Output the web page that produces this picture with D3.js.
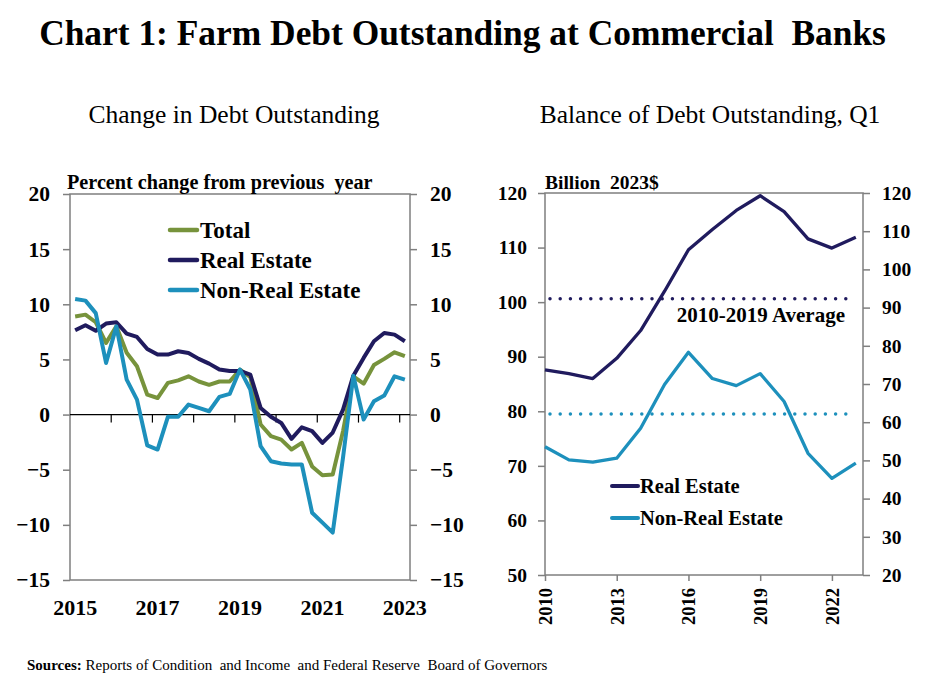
<!DOCTYPE html>
<html><head><meta charset="utf-8">
<script src="https://cdn.jsdelivr.net/npm/d3@7"></script>
<style>body{margin:0;background:#fff}svg{display:block}text{font-family:"Liberation Serif","Times New Roman",serif}</style>
</head><body>
<svg id="c" width="925" height="693"></svg>
<script>
// ---------- data ----------
const quarters = ["2015Q1","2015Q2","2015Q3","2015Q4","2016Q1","2016Q2","2016Q3","2016Q4","2017Q1","2017Q2","2017Q3","2017Q4","2018Q1","2018Q2","2018Q3","2018Q4","2019Q1","2019Q2","2019Q3","2019Q4","2020Q1","2020Q2","2020Q3","2020Q4","2021Q1","2021Q2","2021Q3","2021Q4","2022Q1","2022Q2","2022Q3","2022Q4","2023Q1"];
const totalChg = [8.9,9.06,8.37,6.5,8.0,5.6,4.38,1.8,1.5,2.87,3.1,3.47,3.0,2.7,3.0,3.0,4.08,3.4,-0.9,-1.96,-2.27,-3.17,-2.57,-4.7,-5.5,-5.44,-1.5,3.47,2.8,4.5,5.05,5.65,5.29];
const realEstateChg = [7.64,8.1,7.6,8.25,8.37,7.34,7.04,5.95,5.44,5.44,5.74,5.59,5.05,4.62,4.08,3.96,3.96,3.63,0.6,-0.2,-0.76,-2.2,-1.15,-1.5,-2.57,-1.63,0.45,3.53,5.14,6.65,7.4,7.25,6.65];
const nonRealEstateChg = [10.48,10.33,9.2,4.68,8.0,3.17,1.36,-2.8,-3.17,-0.2,-0.2,0.9,0.6,0.3,1.6,1.87,4.08,2.27,-2.87,-4.23,-4.44,-4.53,-4.53,-8.9,-9.8,-10.7,-3.9,3.53,-0.45,1.2,1.72,3.47,3.17];
const leftYTicks = [-15,-10,-5,0,5,10,15,20];
const leftXLabels = ["2015","2017","2019","2021","2023"];

const years = [2010,2011,2012,2013,2014,2015,2016,2017,2018,2019,2020,2021,2022,2023];
const realEstateBal = [87.6,86.9,86.0,89.7,94.8,102.0,109.6,113.3,116.8,119.5,116.6,111.6,109.9,111.9];
const nonRealEstateBal = [73.5,71.1,70.7,71.4,76.9,84.9,90.8,86.0,84.7,86.9,81.8,72.3,67.7,70.5];
const avgRealEstate = 100.6;
const avgNonRealEstate = 79.5;
const rightYTicksL = [50,60,70,80,90,100,110,120];
const rightYTicksR = [20,30,40,50,60,70,80,90,100,110,120];
const rightXTicks = [2010,2013,2016,2019,2022];

const colTotal = "#77933C", colRE = "#201B5E", colNRE = "#1D90BC", axisCol = "#7f7f7f";

const svg = d3.select("#c");

// titles
svg.append("text").attr("x",462.5).attr("y",45).attr("text-anchor","middle")
  .attr("font-size",35.4).attr("font-weight","bold").attr("xml:space","preserve")
  .text("Chart 1: Farm Debt Outstanding at Commercial  Banks");
svg.append("text").attr("x",234).attr("y",123).attr("text-anchor","middle").attr("font-size",25.5).text("Change in Debt Outstanding");
svg.append("text").attr("x",710).attr("y",123).attr("text-anchor","middle").attr("font-size",25.5).text("Balance of Debt Outstanding, Q1");

// ---------- left chart ----------
const L = {x0:70, x1:410, y0:194, y1:580};
const xL = d3.scaleBand().domain(quarters).range([L.x0, L.x1]).padding(0);
const yL = d3.scaleLinear().domain([-15,20]).range([L.y1, L.y0]);
const gL = svg.append("g");

gL.append("rect").attr("x",L.x0).attr("y",L.y0).attr("width",L.x1-L.x0).attr("height",L.y1-L.y0)
  .attr("fill","none").attr("stroke",axisCol).attr("stroke-width",1.5);

const axL = gL.append("g").attr("transform",`translate(${L.x0},0)`)
  .call(d3.axisLeft(yL).tickValues(leftYTicks).tickSize(7).tickPadding(13).tickFormat(d3.format("d")));
const axR = gL.append("g").attr("transform",`translate(${L.x1},0)`)
  .call(d3.axisRight(yL).tickValues(leftYTicks).tickSize(7).tickPadding(13).tickFormat(d3.format("d")));
[axL,axR].forEach(a=>{
  a.select(".domain").remove();
  a.selectAll("line").attr("stroke",axisCol).attr("stroke-width",1.5);
  a.selectAll("text").attr("font-size",21.5).attr("font-weight","bold").attr("fill","#000")
   .attr("font-family","Liberation Serif");
});

gL.append("line").attr("x1",L.x0).attr("x2",L.x1).attr("y1",yL(0)).attr("y2",yL(0)).attr("stroke","#000").attr("stroke-width",1.2);
const yearStarts = quarters.filter((q,i)=>i>0 && q.endsWith("Q1"));
gL.selectAll(".yt").data(yearStarts).join("line")
  .attr("x1",d=>xL(d)).attr("x2",d=>xL(d)).attr("y1",yL(0)).attr("y2",yL(0)+8)
  .attr("stroke","#000").attr("stroke-width",1.2);
gL.selectAll(".xl").data(leftXLabels).join("text")
  .attr("x",d=>xL(d+"Q1")+xL.bandwidth()/2).attr("y",615).attr("text-anchor","middle")
  .attr("font-size",22).attr("font-weight","bold").text(d=>d);

gL.append("text").attr("x",67).attr("y",189).attr("font-size",20.2).attr("font-weight","bold")
  .attr("xml:space","preserve").text("Percent change from previous  year");

const lineL = d3.line().x((d,i)=>xL(quarters[i])+xL.bandwidth()/2).y(d=>yL(d));
[[totalChg,colTotal],[realEstateChg,colRE],[nonRealEstateChg,colNRE]].forEach(([s,c])=>{
  gL.append("path").datum(s).attr("d",lineL).attr("fill","none").attr("stroke",c)
    .attr("stroke-width",4).attr("stroke-linejoin","round");
});

const legL = [["Total",colTotal],["Real Estate",colRE],["Non-Real Estate",colNRE]];
legL.forEach(([t,c],i)=>{
  const y = 230 + i*30;
  gL.append("line").attr("x1",170).attr("x2",197).attr("y1",y).attr("y2",y).attr("stroke",c).attr("stroke-width",4.5).attr("stroke-linecap","round");
  gL.append("text").attr("x",200).attr("y",y+8).attr("font-size",23).attr("font-weight","bold").text(t);
});

// ---------- right chart ----------
const R = {x0:545, x1:863, y0:193, y1:575};
const xR = d3.scaleLinear().domain([2010, 2023.3]).range([R.x0, R.x1]);
const yR = d3.scaleLinear().domain([50,120]).range([R.y1, R.y0]);
const yR2 = d3.scaleLinear().domain([20,120]).range([R.y1, R.y0]);
const gR = svg.append("g");

gR.append("rect").attr("x",R.x0).attr("y",R.y0).attr("width",R.x1-R.x0).attr("height",R.y1-R.y0)
  .attr("fill","none").attr("stroke",axisCol).attr("stroke-width",1.5);

const aRL = gR.append("g").attr("transform",`translate(${R.x0},0)`)
  .call(d3.axisLeft(yR).tickValues(rightYTicksL).tickSize(7).tickPadding(11).tickFormat(d3.format("d")));
const aRR = gR.append("g").attr("transform",`translate(${R.x1},0)`)
  .call(d3.axisRight(yR2).tickValues(rightYTicksR).tickSize(7).tickPadding(12).tickFormat(d3.format("d")));
const aRB = gR.append("g").attr("transform",`translate(0,${R.y1})`)
  .call(d3.axisBottom(xR).tickValues(rightXTicks).tickSize(6).tickFormat(d3.format("d")));
[aRL,aRR,aRB].forEach(a=>{
  a.select(".domain").remove();
  a.selectAll("line").attr("stroke",axisCol).attr("stroke-width",1.5);
  a.selectAll("text").attr("font-size",19.5).attr("font-weight","bold").attr("fill","#000")
   .attr("font-family","Liberation Serif");
});
aRB.selectAll("text").attr("font-size",18.5).attr("text-anchor","end")
  .attr("transform","translate(0,13) rotate(-90)").attr("x",0).attr("y",0).attr("dy","0.35em");

gR.append("text").attr("x",545).attr("y",189).attr("font-size",19.5).attr("font-weight","bold")
  .attr("xml:space","preserve").text("Billion  2023$");

[[avgRealEstate,colRE],[avgNonRealEstate,colNRE]].forEach(([v,c])=>{
  gR.append("line").attr("x1",xR(2010)+5).attr("x2",xR(2023)).attr("y1",yR(v)).attr("y2",yR(v))
    .attr("stroke",c).attr("stroke-width",3.5).attr("stroke-linecap","round").attr("stroke-dasharray","0 10.2");
});
gR.append("text").attr("x",845).attr("y",322).attr("text-anchor","end").attr("font-size",21)
  .attr("font-weight","bold").text("2010-2019 Average");

const lineR = d3.line().x((d,i)=>xR(years[i])).y(d=>yR(d));
[[realEstateBal,colRE],[nonRealEstateBal,colNRE]].forEach(([s,c])=>{
  gR.append("path").datum(s).attr("d",lineR).attr("fill","none").attr("stroke",c)
    .attr("stroke-width",3.3).attr("stroke-linejoin","round");
});

const legR = [["Real Estate",colRE],["Non-Real Estate",colNRE]];
legR.forEach(([t,c],i)=>{
  const y = 486 + i*32;
  gR.append("line").attr("x1",612).attr("x2",638).attr("y1",y).attr("y2",y).attr("stroke",c).attr("stroke-width",4).attr("stroke-linecap","round");
  gR.append("text").attr("x",640).attr("y",y+7).attr("font-size",20.5).attr("font-weight","bold").text(t);
});

// sources
const src = svg.append("text").attr("x",27).attr("y",670).attr("font-size",15).attr("xml:space","preserve");
src.append("tspan").attr("font-weight","bold").text("Sources:");
src.append("tspan").text(" Reports of Condition  and Income  and Federal Reserve  Board of Governors");
</script>
</body></html>
